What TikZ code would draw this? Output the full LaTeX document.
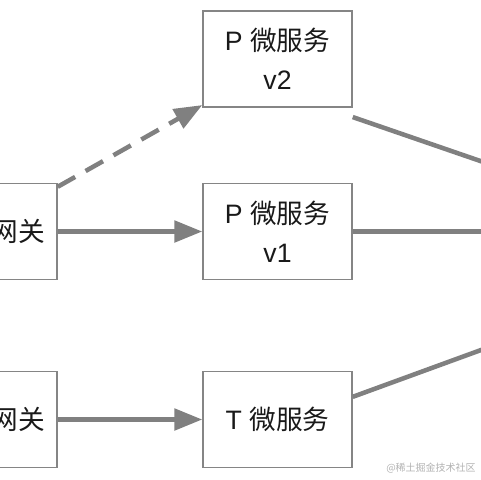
\documentclass[tikz,border=0pt]{standalone}
\usepackage{fontspec}
\setmainfont{Liberation Sans}
\newfontfamily\cjk{Noto Sans CJK SC}
\usetikzlibrary{arrows.meta}
\begin{document}
\begin{tikzpicture}[x=0.75pt,y=-0.75pt,
  svc/.style={draw=black!48,line width=1.1pt,minimum width=111.75pt,minimum height=72pt,inner sep=0pt,align=center,font=\fontsize{20}{29}\selectfont,text=black!90},
  lbl/.style={font=\fontsize{20}{29}\selectfont,text=black!90,inner sep=0pt},
  conn/.style={draw=black!50,line width=3.4pt,-{Triangle[length=21pt,width=16pt]}},
  plain/.style={draw=black!50,line width=3.4pt}]
\useasboundingbox (0,0) rectangle (480,480);
\node[svc] (gw1) at (-17.5,231.5) {};
\node[svc] (gw2) at (-17.5,419.5) {};
\node[lbl,anchor=east] (gw1t) at (45,231.5) {\cjk 网关};
\node[lbl,anchor=east] (gw2t) at (45,419.5) {\cjk 网关};
\node[svc] (pv2) at (277.5,59) {P {\cjk 微服务}\\v2};
\node[svc] (pv1) at (277.5,231.5) {P {\cjk 微服务}\\v1};
\node[svc] (t) at (277.5,419.5) {T {\cjk 微服务}};
\coordinate (c1) at (492,165);
\coordinate (c2) at (492,231.5);
\coordinate (c3) at (492,346);
\draw[conn] (gw1.east) -- (pv1.west);
\draw[conn] (gw2.east) -- (t.west);
\draw[conn,dash pattern=on 15pt off 9pt] ([yshift=-3pt]gw1.north east) -- ([yshift=2pt]pv2.south west);
\draw[plain] ([yshift=-7pt]pv2.south east) -- (c1);
\draw[plain] (pv1.east) -- (c2);
\draw[plain] ([yshift=17pt]t.east) -- (c3);
\node[anchor=east,font=\cjk\fontsize{7.5}{9}\selectfont,text=black!30,inner sep=0pt] (wm) at (476,468) {@稀土掘金技术社区};
\end{tikzpicture}
\end{document}
